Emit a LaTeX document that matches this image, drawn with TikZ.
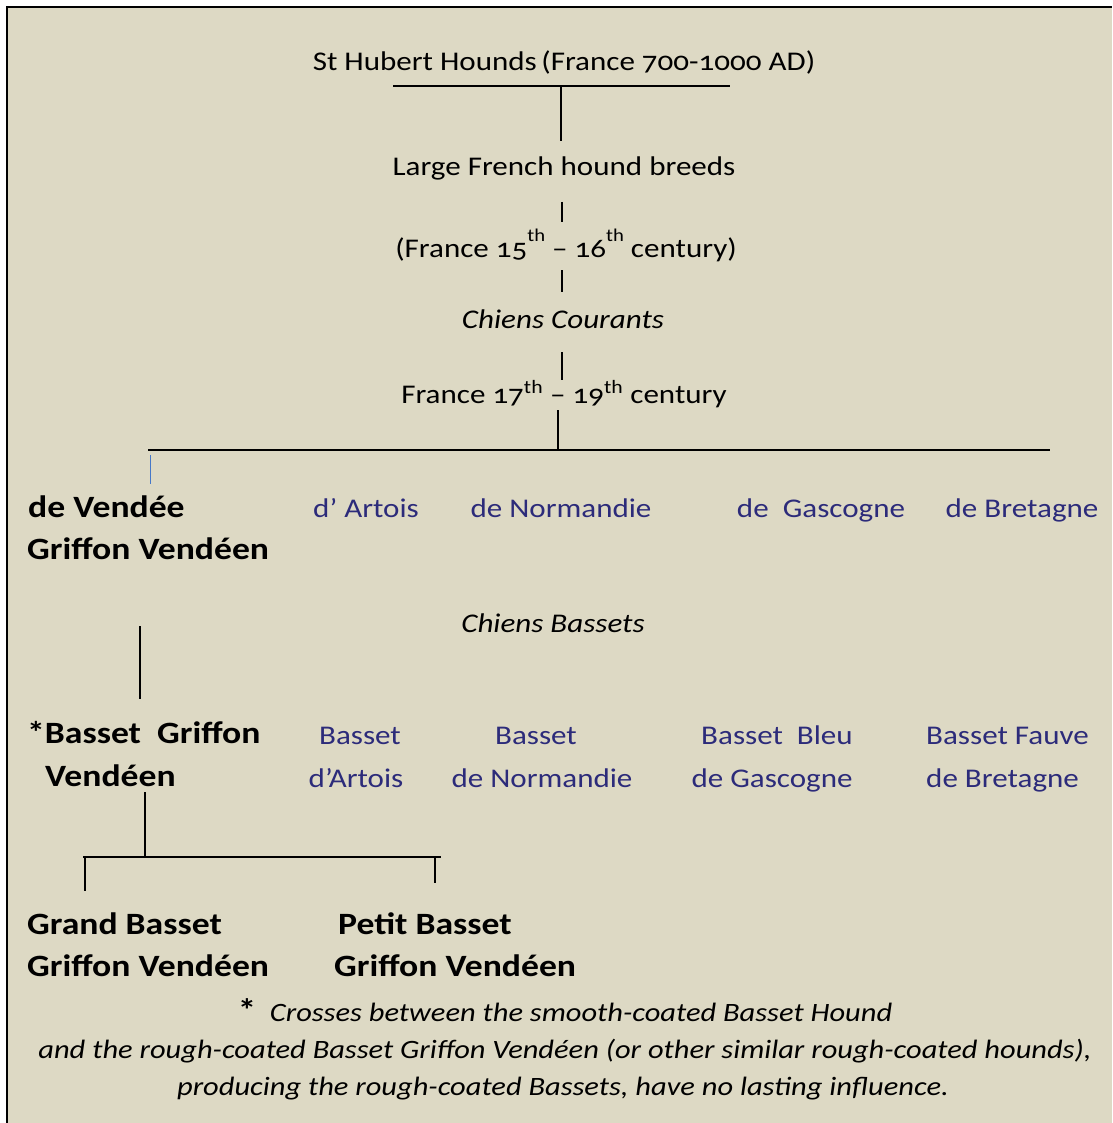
\documentclass[tikz,border=0pt]{standalone}
\usepackage{fontspec}
\setmainfont{Carlito}[Numbers=OldStyle, FakeStretch=1.15]
\definecolor{bg}{RGB}{221,217,196}
\definecolor{navy}{RGB}{44,43,122}
\definecolor{tickblue}{RGB}{70,120,200}
\newcommand{\hisup}[1]{\raisebox{0.62em}{\fontsize{18}{20}\selectfont #1}}
\begin{document}
\begin{tikzpicture}[x=1pt,y=-1pt,
  lbl/.style={inner sep=0pt,anchor=base,font=\fontsize{27}{30}\selectfont},
  bld/.style={inner sep=0pt,anchor=base west,font=\fontsize{31}{34}\selectfont\bfseries},
  blu/.style={lbl,text=navy},
  itl/.style={lbl,font=\fontsize{27}{30}\selectfont\itshape},
  foot/.style={lbl,font=\fontsize{26.5}{30}\selectfont\itshape},
  ln/.style={line width=1.3pt},
  thk/.style={line width=2pt}]
\useasboundingbox (0,0) rectangle (1112,1123);
\fill[white] (0,0) rectangle (1112,1123);
\fill[bg] (7,7) rectangle (1112,1123);
\draw[line width=2pt] (7,1123) -- (7,7) -- (1112,7);

% top chain
\node[lbl] (t1) at (564,71) {St Hubert Hounds\,(France 700-1000 AD)};
\node[lbl] (t2) at (564,176) {Large French hound breeds};
\node[lbl] (t3) at (566,258) {(France 15\hisup{th}\ – 16\hisup{th}\ century)};
\node[itl] (t4) at (563,328) {Chiens Courants};
\node[lbl] (t5) at (564,403) {France 17\textsuperscript{th} – 19\textsuperscript{th} century};

\coordinate (h1l) at (393,86); \coordinate (h1r) at (730,86);
\draw[thk] (h1l) -- (h1r);
\coordinate (v1a) at (561,86); \coordinate (v1b) at (561,141);
\draw[ln] (v1a) -- (v1b);
\coordinate (v2a) at (562,202); \coordinate (v2b) at (562,222);
\draw[ln] (v2a) -- (v2b);
\coordinate (v3a) at (562,270); \coordinate (v3b) at (562,292);
\draw[ln] (v3a) -- (v3b);
\coordinate (v4a) at (562,352); \coordinate (v4b) at (562,380);
\draw[ln] (v4a) -- (v4b);
\coordinate (v5a) at (558,410); \coordinate (v5b) at (558,450);
\draw[ln] (v5a) -- (v5b);
\coordinate (h2l) at (148,450); \coordinate (h2r) at (1050,450);
\draw[thk] (h2l) -- (h2r);
\coordinate (bta) at (150,455); \coordinate (btb) at (150,484);
\draw[tickblue,line width=0.8pt] (bta) -- (btb);

% row 1
\node[bld] (v1) at (28,517) {de Vendée};
\node[bld] (v2) at (27,559) {Griffon Vendéen};
\node[blu] (a1) at (366,517) {d’ Artois};
\node[blu] (n1) at (561,517) {de Normandie};
\node[blu] (g1) at (821,517) {de\ \ Gascogne};
\node[blu] (b1) at (1022,517) {de Bretagne};

\node[itl] (cb) at (553,632) {Chiens Bassets};

\coordinate (v6a) at (140,626); \coordinate (v6b) at (140,699);
\draw[ln] (v6a) -- (v6b);

% row 2
\node[bld] (bg1) at (27,743) {*Basset\ \ Griffon};
\node[bld] (bg2) at (45,786) {Vendéen};
\node[blu] (a2) at (360,744) {Basset};
\node[blu] (a3) at (356,787) {d’Artois};
\node[blu] (n2) at (536,744) {Basset};
\node[blu] (n3) at (542,787) {de Normandie};
\node[blu] (g2) at (777,744) {Basset\ \ Bleu};
\node[blu] (g3) at (772,787) {de Gascogne};
\node[blu,anchor=base west] (b2) at (926,744) {Basset Fauve};
\node[blu,anchor=base west] (b3) at (926,787) {de Bretagne};

\coordinate (v7a) at (145,792); \coordinate (v7b) at (145,857);
\draw[ln] (v7a) -- (v7b);
\coordinate (h3l) at (83,857); \coordinate (h3r) at (441,857);
\draw[thk] (h3l) -- (h3r);
\coordinate (v8a) at (85,857); \coordinate (v8b) at (85,891);
\draw[ln] (v8a) -- (v8b);
\coordinate (v9a) at (435,857); \coordinate (v9b) at (435,883);
\draw[ln] (v9a) -- (v9b);

% row 3
\node[bld] (gb1) at (27,934) {Grand Basset};
\node[bld] (gb2) at (27,976) {Griffon Vendéen};
\node[bld] (pb1) at (338,934) {Petit Basset};
\node[bld] (pb2) at (334,976) {Griffon Vendéen};

% footnote
\node[foot] (f1) at (565,1021) {{\upshape\bfseries\fontsize{32}{30}\selectfont *}\ \ Crosses between the smooth-coated Basset Hound};
\node[foot] (f2) at (565,1058) {and the rough-coated Basset Griffon Vendéen (or other similar rough-coated hounds),};
\node[foot] (f3) at (563,1095) {producing the rough-coated Bassets, have no lasting influence.};
\end{tikzpicture}
\end{document}
